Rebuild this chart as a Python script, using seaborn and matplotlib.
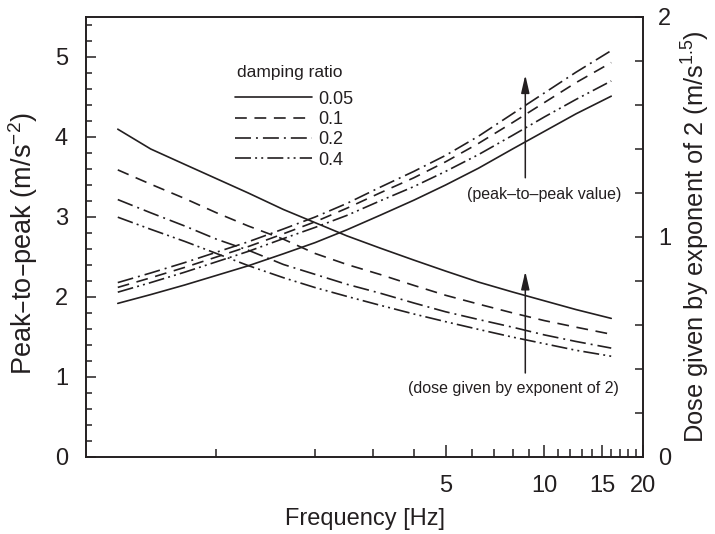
import numpy as np
import pandas as pd
import matplotlib
matplotlib.use('Agg')
import matplotlib.pyplot as plt
from matplotlib.ticker import NullFormatter
import seaborn as sns

# one-third octave band centre frequencies (Hz)
freq = [0.5, 0.63, 0.8, 1, 1.25, 1.6, 2, 2.5, 3.15, 4, 5, 6.3, 8, 10, 12.5, 16]
damping = ['0.05', '0.1', '0.2', '0.4']

# peak-to-peak values (left axis, m/s^-2)
p2p_005 = [1.92, 2.03, 2.15, 2.27, 2.39, 2.54, 2.68, 2.84, 3.02, 3.21, 3.40, 3.61, 3.85, 4.07, 4.29, 4.51]
p2p_01 = [2.12, 2.24, 2.37, 2.50, 2.63, 2.79, 2.94, 3.11, 3.30, 3.49, 3.69, 3.92, 4.18, 4.43, 4.68, 4.93]
p2p_02 = [2.18, 2.30, 2.43, 2.56, 2.69, 2.85, 3.00, 3.17, 3.37, 3.57, 3.77, 4.01, 4.29, 4.55, 4.81, 5.08]
p2p_04 = [2.06, 2.18, 2.31, 2.44, 2.57, 2.73, 2.87, 3.02, 3.20, 3.38, 3.57, 3.78, 4.02, 4.25, 4.47, 4.70]

# dose given by exponent of 2 (right axis, m/s^1.5)
dose_005 = [1.49, 1.40, 1.33, 1.265, 1.20, 1.125, 1.065, 1.005, 0.95, 0.895, 0.845, 0.795, 0.75, 0.71, 0.67, 0.63]
dose_01 = [1.305, 1.24, 1.175, 1.11, 1.05, 0.99, 0.925, 0.875, 0.83, 0.78, 0.735, 0.695, 0.655, 0.62, 0.59, 0.558]
dose_02 = [1.17, 1.11, 1.05, 0.99, 0.94, 0.875, 0.83, 0.785, 0.745, 0.70, 0.66, 0.625, 0.59, 0.555, 0.525, 0.495]
dose_04 = [1.09, 1.035, 0.98, 0.925, 0.87, 0.815, 0.77, 0.73, 0.69, 0.65, 0.615, 0.58, 0.545, 0.515, 0.485, 0.458]

x_major = [5, 10, 15, 20]
x_minor = [1, 2, 3, 4, 6, 7, 8, 9, 11, 12, 13, 14, 16, 17, 18, 19]

# long-form tables for seaborn
p2p_df = pd.DataFrame({
    'freq': freq * 4,
    'value': p2p_005 + p2p_01 + p2p_02 + p2p_04,
    'damping': np.repeat(damping, len(freq)),
})
dose_df = pd.DataFrame({
    'freq': freq * 4,
    'value': dose_005 + dose_01 + dose_02 + dose_04,
    'damping': np.repeat(damping, len(freq)),
})

sns.set_style('white')
plt.rcParams['font.family'] = ['Liberation Sans', 'DejaVu Sans']
plt.rcParams['mathtext.default'] = 'regular'
plt.rcParams['lines.scale_dashes'] = False
ink = '#231f20'
plt.rcParams['text.color'] = ink
plt.rcParams['axes.labelcolor'] = ink
plt.rcParams['xtick.color'] = ink
plt.rcParams['ytick.color'] = ink

dash_styles = {
    '0.05': '',
    '0.1': (8.5, 5.5),
    '0.2': (11.5, 3.6, 1.4, 3.6),
    '0.4': (11.5, 3.0, 1.4, 3.0, 1.4, 3.0),
}

fig, ax = plt.subplots(figsize=(7.15, 5.34), dpi=100)
fig.subplots_adjust(left=0.1203, right=0.8993, bottom=0.1442, top=0.9682)
ax.set_xscale('log')
ax2 = ax.twinx()

sns.lineplot(data=p2p_df, x='freq', y='value', style='damping', style_order=damping,
             dashes=dash_styles, color=ink, lw=1.2, errorbar=None, ax=ax, legend=False)
sns.lineplot(data=dose_df, x='freq', y='value', style='damping', style_order=damping,
             dashes=dash_styles, color=ink, lw=1.2, errorbar=None, ax=ax2, legend=False)

ax.set_xlim(0.4, 20)
ax.set_ylim(0, 5.5)
ax2.set_ylim(0, 2)

# ticks
ax.set_xticks(x_major, labels=[str(v) for v in x_major])
ax.set_xticks(x_minor, minor=True)
ax.xaxis.set_minor_formatter(NullFormatter())
ax.set_yticks(range(6))
ax.set_yticks(np.arange(0, 5.41, 0.2), minor=True)
ax2.set_yticks([0, 1, 2])
ax2.set_yticks(np.arange(0, 2.01, 0.2), minor=True)

ax.tick_params(axis='x', which='major', direction='in', length=9, width=1.1, pad=13,
               labelsize=17, bottom=True, top=False)
ax.tick_params(axis='x', which='minor', direction='in', length=5.5, width=1.1, bottom=True, top=False)
ax.tick_params(axis='y', which='major', direction='in', length=7.5, width=1.1, pad=13,
               labelsize=17, left=True, right=False)
ax.tick_params(axis='y', which='minor', direction='in', length=4.5, width=1.1, left=True, right=False)
ax2.tick_params(axis='y', which='both', direction='in', length=5.5, width=1.1, pad=11,
                labelsize=17, left=False, right=True)

for a in (ax, ax2):
    for sp in a.spines.values():
        sp.set_linewidth(1.2)
        sp.set_edgecolor(ink)

# axis labels
ax.set_xlabel('Frequency [Hz]', fontsize=17)
ax.xaxis.set_label_coords(0.5, -0.115)
ax.set_ylabel('Peak–to–peak (m/s$^{-2}$)', fontsize=19.5)
ax.yaxis.set_label_coords(-0.083, 0.485)
ax2.set_ylabel('Dose given by exponent of 2 (m/s$^{1.5}$)', fontsize=18.3)
ax2.yaxis.set_label_coords(1.066, 0.5)

# legend, title drawn as its own text to get the gap of the original
fig.text(290 / 715, 1 - 73 / 534, 'damping ratio', ha='center', va='center', fontsize=12.5)
ax.legend(ax.lines[:4], damping, loc='upper left',
          bbox_to_anchor=(235 / 715, 1 - 90.5 / 534), bbox_transform=fig.transFigure,
          frameon=False, fontsize=13, handlelength=4.26,
          handletextpad=0.33, labelspacing=0.19, borderpad=0, borderaxespad=0)

# arrows showing increasing damping ratio
arrow_f = 8.75
arrow_props = dict(arrowstyle='-|>,head_length=1.08,head_width=0.25', color=ink,
                   lw=1.1, shrinkA=0, shrinkB=0, mutation_scale=10)
ax.annotate('', xy=(arrow_f, 4.775), xytext=(arrow_f, 3.49), arrowprops=arrow_props)
ax.annotate('', xy=(arrow_f, 2.32), xytext=(arrow_f, 1.05), arrowprops=arrow_props)
ax.text(10.0, 3.275, '(peak–to–peak value)', ha='center', va='center', fontsize=11.5)
ax.text(8.04, 0.86, '(dose given by exponent of 2)', ha='center', va='center', fontsize=11.5)

fig.savefig('out.png', dpi=100)
